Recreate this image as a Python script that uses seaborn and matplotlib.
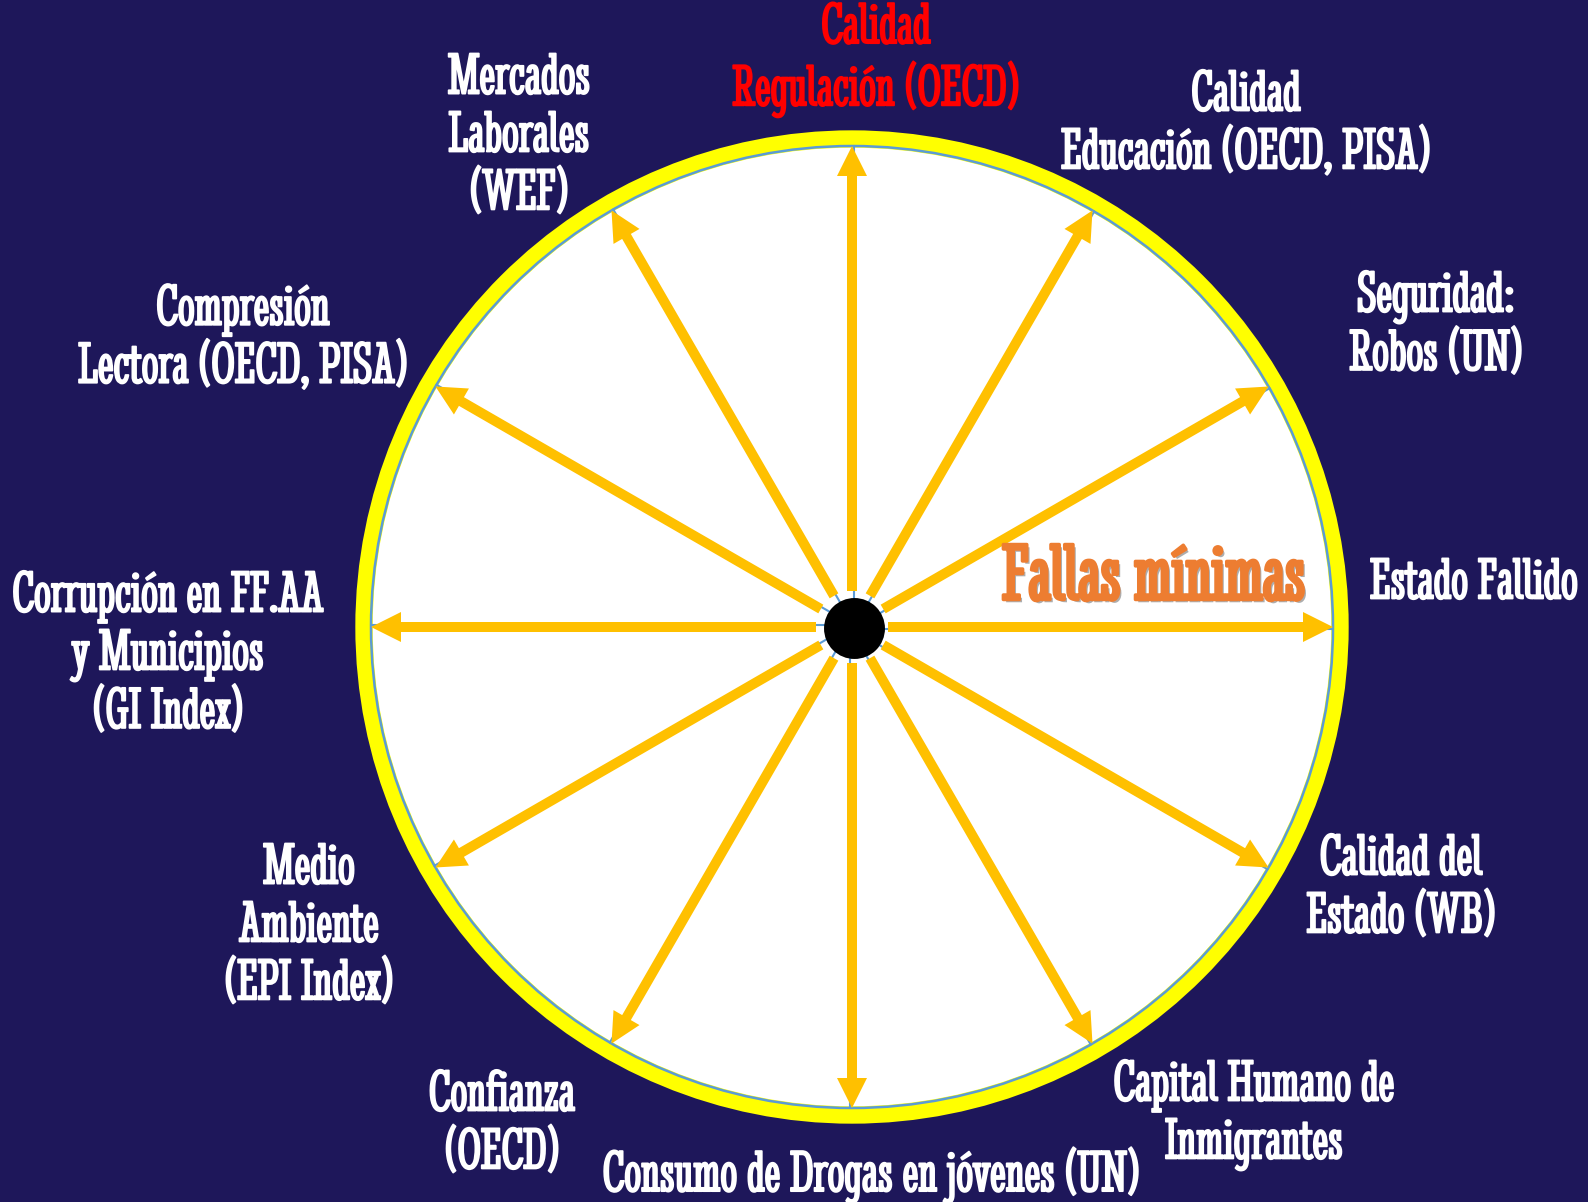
import numpy as np
import pandas as pd
import seaborn as sns
import matplotlib.pyplot as plt
from matplotlib.patches import Circle
import matplotlib.patheffects as pe

# spokes, clockwise from the top
labels = [
    "Calidad\nRegulación (OECD)",
    "Calidad\nEducación (OECD, PISA)",
    "Seguridad:\nRobos (UN)",
    "Estado Fallido",
    "Calidad del\nEstado (WB)",
    "Capital Humano de\nInmigrantes",
    "Consumo de Drogas en jóvenes (UN)",
    "Confianza\n(OECD)",
    "Medio\nAmbiente\n(EPI Index)",
    "Corrupción en FF.AA\ny Municipios\n(GI Index)",
    "Compresión\nLectora (OECD, PISA)",
    "Mercados\nLaborales\n(WEF)",
]
angles = [90, 60, 30, 0, -30, -60, -90, -120, -150, 180, 150, 120]
center_label = "Fallas mínimas"

# layout (pixel offsets from the wheel centre)
label_pos = [(24, 567), (394, 502), (584, 301), (622, 43), (549, -262), (402, -488),
             (19, -548), (-350, -498), (-543, -300), (-684, -28), (-609, 288), (-333, 490)]
label_col = ["#ff0000"] + ["white"] * 11

bg = "#1e175a"
sns.set_theme(style="white")
plt.rcParams["font.family"] = ["Stint Ultra Condensed", "Oswald", "DejaVu Sans"]

fig = plt.figure(figsize=(15.88, 12.02), dpi=100, facecolor=bg)
ax = fig.add_axes([0, 0, 1, 1])
ax.set_facecolor(bg)
ax.set_xlim(-852, 736)
ax.set_ylim(-575, 627)
ax.set_aspect("equal")
ax.axis("off")

R = 481
ax.add_patch(Circle((0, 0), 488, facecolor="white", edgecolor="#ffff00", lw=12.5, zorder=1))
ax.add_patch(Circle((0, 0), R, facecolor="none", edgecolor="#5b9bd5", lw=1.8, zorder=2))

spokes = pd.DataFrame({"label": labels, "angle": angles})
spokes["dx"] = np.cos(np.radians(spokes["angle"]))
spokes["dy"] = np.sin(np.radians(spokes["angle"]))

for _, s in spokes.iterrows():
    ax.plot([2 * s.dy, R * s.dx + 2 * s.dy], [-2 * s.dx, R * s.dy - 2 * s.dx],
            color="#5b9bd5", lw=1.5, zorder=3)
    r0 = 36
    ax.arrow(r0 * s.dx, r0 * s.dy, (R - r0) * s.dx, (R - r0) * s.dy,
             width=10, head_width=30, head_length=30, length_includes_head=True,
             color="#ffc000", lw=0, zorder=4)

sns.scatterplot(x=[2], y=[-1], s=1650, color="black", edgecolor="black", ax=ax, zorder=5)

for text, (x, y), c in zip(labels, label_pos, label_col):
    ax.text(x, y, text, color=c, fontsize=43, ha="center", va="center",
            linespacing=1.12, zorder=6,
            path_effects=[pe.withStroke(linewidth=1.3, foreground=c)])

ax.text(302, 47, center_label, color="#ed7d31", fontsize=59,
        ha="center", va="center", zorder=6,
        path_effects=[pe.SimplePatchShadow(offset=(2, -2), shadow_rgbFace="#999999", alpha=0.8),
                      pe.withStroke(linewidth=2.5, foreground="#ed7d31")])

fig.savefig("out.png", dpi=100, facecolor=bg)
